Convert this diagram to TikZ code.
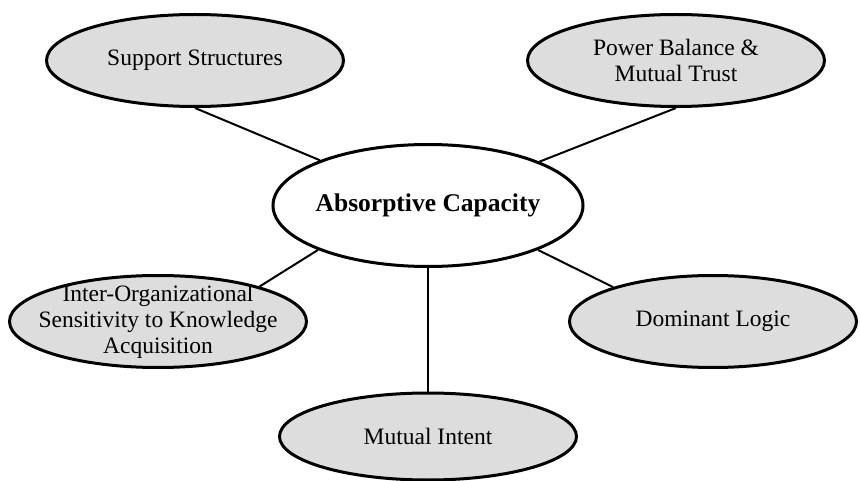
\documentclass[tikz,border=0pt]{standalone}
\usepackage{fontspec}
\setmainfont{Liberation Serif}
\usetikzlibrary{shapes.geometric}
\definecolor{bubblegray}{RGB}{221,221,221}
\tikzset{
  bubble/.style={ellipse, draw=black, line width=3pt, fill=bubblegray,
    minimum width=297pt, minimum height=92pt, inner sep=0pt},
  hub/.style={ellipse, draw=black, line width=3pt, fill=white,
    minimum width=310pt, minimum height=122pt, inner sep=0pt},
  lbl/.style={align=center, inner sep=0pt,
    font=\fontsize{23.5}{26}\selectfont},
  hublbl/.style={align=center, inner sep=0pt,
    font=\fontsize{25.5}{28}\selectfont\bfseries},
  link/.style={draw=black, line width=2pt}
}
\begin{document}
\begin{tikzpicture}[x=1pt,y=-1pt]
  \useasboundingbox (0,0) rectangle (860,481);

  % central concept
  \node[hub] (cap) at (428,205.5) {};
  \node[hublbl] (capt) at (cap) {Absorptive Capacity};

  % surrounding factors
  \node[bubble] (sup) at (195,60.5) {};
  \node[lbl] (supt) at (sup) {Support Structures};

  \node[bubble] (pow) at (676,60.5) {};
  \node[lbl] (powt) at (pow) {Power Balance \&\\Mutual Trust};

  \node[bubble] (ios) at (158,321.5) {};
  \node[lbl] (iost) at (ios) {Inter-Organizational\\Sensitivity to Knowledge\\Acquisition};

  \node[bubble, minimum width=287pt] (dom) at (713,321.5) {};
  \node[lbl] (domt) at (dom) {Dominant Logic};

  \node[bubble, minimum height=87pt] (mut) at (428,436.5) {};
  \node[lbl] (mutt) at (mut) {Mutual Intent};

  % spokes from the centre to each factor
  \path[link] (cap) -- (sup.south);
  \path[link] (cap) -- (pow.south);
  \path[link] (cap.202) -- (ios.19);
  \path[link] (cap.338) -- (dom.161);
  \path[link] (cap) -- (mut.north);
\end{tikzpicture}
\end{document}
